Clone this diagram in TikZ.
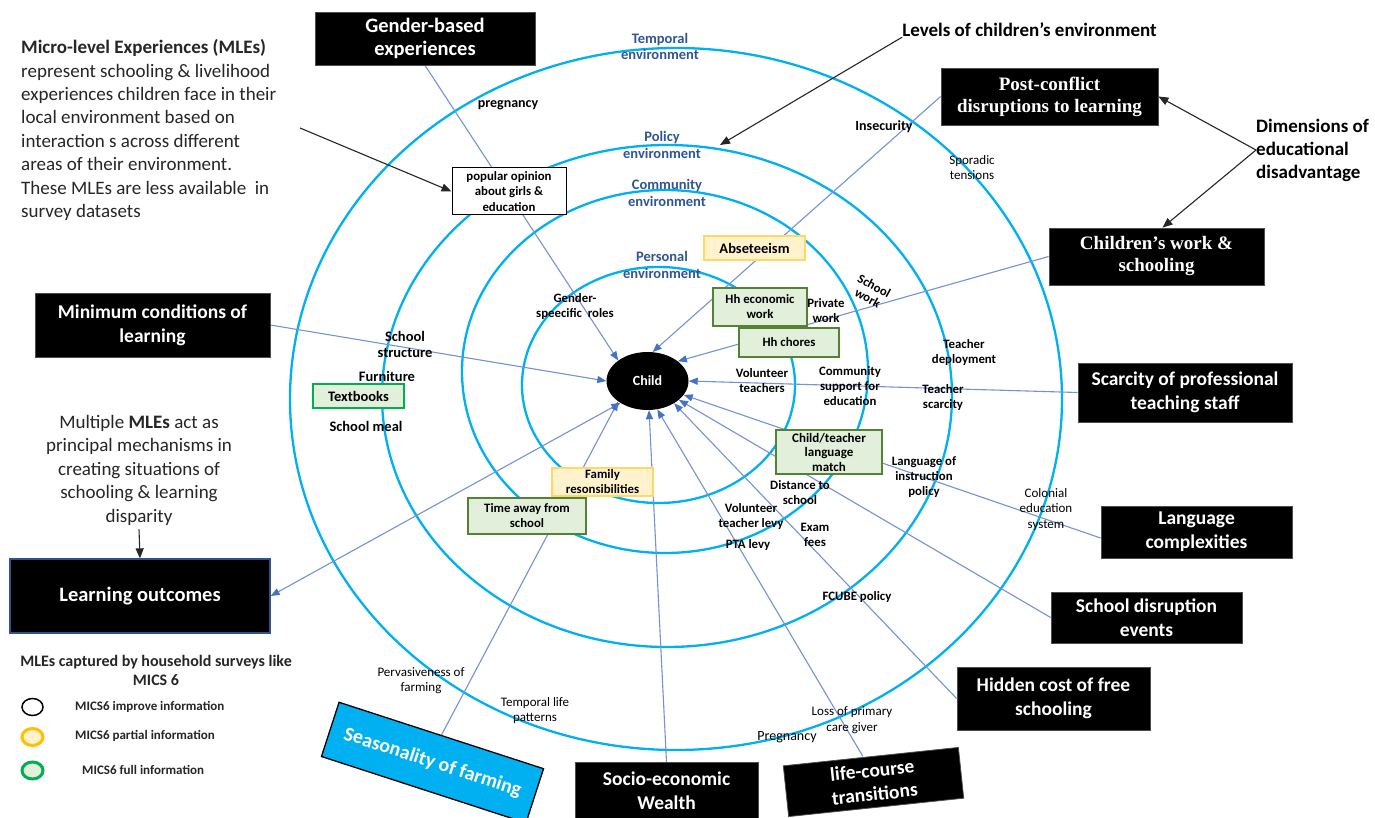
\documentclass[tikz,border=0pt]{standalone}
\usepackage{fontspec}
\setmainfont{Carlito}
\newfontfamily\timesfont{Liberation Serif}
\usetikzlibrary{shapes.geometric,arrows.meta}

\definecolor{ringblue}{HTML}{00B0F0}
\definecolor{conn}{HTML}{7393D6}
\definecolor{tip}{HTML}{4472C4}
\definecolor{ringtext}{HTML}{2F5597}
\definecolor{yfill}{HTML}{FFF2CC}
\definecolor{ydraw}{HTML}{FFD966}
\definecolor{gfill}{HTML}{E2EFDA}
\definecolor{gdraw}{HTML}{548235}
\definecolor{gbright}{HTML}{00B050}
\definecolor{legy}{HTML}{FFC000}
\definecolor{seasblue}{HTML}{00B0F0}
\definecolor{learnedge}{HTML}{2F528F}
\definecolor{ink}{HTML}{262626}

\pgfdeclarelayer{back}
\pgfsetlayers{back,main}

\tikzset{
  darkbox/.style={fill=black, draw=black!70, line width=0.8pt, text=white, align=center,
    inner sep=0pt, font=\fontsize{19.5}{23.8}\selectfont\bfseries},
  serifbox/.style={darkbox, font=\timesfont\fontsize{19}{22}\selectfont\bfseries},
  greenbox/.style={fill=gfill, draw=gdraw, line width=1.5pt, align=center, inner sep=0pt,
    font=\fontsize{12.8}{15}\selectfont\bfseries},
  yellowbox/.style={fill=yfill, draw=ydraw, line width=1.5pt, align=center, inner sep=0pt,
    font=\fontsize{12.8}{15}\selectfont\bfseries},
  lbl/.style={align=center, inner sep=0pt, font=\fontsize{12.8}{15}\selectfont\bfseries},
  lblmid/.style={align=center, inner sep=0pt, font=\fontsize{14}{16}\selectfont\bfseries},
  lblbig/.style={align=center, inner sep=0pt, font=\fontsize{14.5}{16}\selectfont\bfseries},
  lblr/.style={align=center, inner sep=0pt, font=\fontsize{13}{15.5}\selectfont},
  ringlbl/.style={align=center, inner sep=0pt, text=ringtext, font=\fontsize{14.5}{16.5}\selectfont\bfseries},
  ringline/.style={draw=ringblue, line width=2.3pt},
  link/.style={draw=conn, line width=1.1pt, -{Triangle[length=9pt,width=7pt,color=tip]}},
  twolink/.style={draw=conn, line width=1.1pt, {Triangle[length=9pt,width=7pt,color=tip]}-{Triangle[length=9pt,width=7pt,color=tip]}},
  pointer/.style={draw=black!85, line width=1.1pt, -{Triangle[length=10pt,width=8pt]}},
  legendkey/.style={ellipse, minimum width=21pt, minimum height=17pt, inner sep=0pt},
  legendtext/.style={anchor=west, inner sep=0pt, font=\fontsize{13}{15}\selectfont\bfseries, text=ink},
}

\begin{document}
\begin{tikzpicture}[x=1pt,y=-1pt]
\useasboundingbox (0,0) rectangle (1375,818);

% ---- central child ----
\node[ellipse, fill=black, minimum width=82pt, minimum height=58pt, inner sep=0pt,
  text=white, font=\fontsize{14}{16}\selectfont\bfseries] (child) at (647.5,381) {Child};

% ---- ring labels ----
\node[ringlbl] (rTemporal) at (660,46.5) {Temporal\\environment};
\node[ringlbl] (rPolicy) at (662,145) {Policy\\environment};
\node[ringlbl] (rCommunity) at (667,193) {Community\\environment};
\node[ringlbl] (rPersonal) at (662,265) {Personal\\environment};

% ---- dimension boxes ----
\node[darkbox, minimum width=220pt, minimum height=53pt, font=\fontsize{20.5}{23.5}\selectfont\bfseries]
  (gender) at (425,38.5) {Gender-based\\experiences};
\node[serifbox, minimum width=217pt, minimum height=57pt] (post) at (1049.5,96.5)
  {Post-conflict\\disruptions to learning};
\node[serifbox, minimum width=215pt, minimum height=57pt] (cwork) at (1156.5,256.5)
  {Children’s work \&\\schooling};
\node[darkbox, minimum width=235pt, minimum height=64pt] (mincond) at (152.5,325)
  {Minimum conditions of\\learning};
\node[darkbox, minimum width=214pt, minimum height=59pt] (scarcity) at (1185,392.5)
  {Scarcity of professional\\teaching staff};
\node[darkbox, minimum width=191pt, minimum height=52pt] (langc) at (1196.5,532)
  {Language\\complexities};
\node[darkbox, minimum width=191pt, minimum height=51pt] (disrupt) at (1146.5,617.5)
  {School disruption\\events};
\node[darkbox, minimum width=193pt, minimum height=63pt] (hidden) at (1053.5,698.5)
  {Hidden cost of free\\schooling};
\node[darkbox, minimum width=176pt, minimum height=51pt, rotate=6] (lifec) at (873.5,782)
  {life-course\\transitions};
\node[darkbox, minimum width=183pt, minimum height=57pt] (socio) at (666.5,791)
  {Socio-economic\\Wealth};
\node[darkbox, fill=seasblue, draw=black, line width=1.3pt, minimum width=215pt,
  minimum height=57pt, rotate=-18, font=\fontsize{20}{24}\selectfont\bfseries]
  (season) at (432.5,762.6) {Seasonality of farming};
\node[darkbox, draw=learnedge, line width=1.3pt, minimum width=260pt, minimum height=74pt,
  font=\fontsize{20.5}{24}\selectfont\bfseries] (learn) at (140,596) {Learning outcomes};

% ---- micro-level experience boxes ----
\node[fill=white, draw=black, line width=1pt, align=center, inner sep=0pt,
  minimum width=114pt, minimum height=47pt, font=\fontsize{12.8}{15.5}\selectfont\bfseries]
  (opinion) at (509,191.5) {popular opinion\\about girls \&\\education};
\node[yellowbox, minimum width=101pt, minimum height=24pt, font=\fontsize{14.5}{16}\selectfont\bfseries]
  (absent) at (754.5,248) {Abseteeism};
\node[greenbox, minimum width=94pt, minimum height=38pt] (hhwork) at (760,307) {Hh economic\\work};
\node[greenbox, minimum width=100pt, minimum height=29pt] (hhchores) at (789,342.5) {Hh chores};
\node[greenbox, minimum width=106pt, minimum height=44pt, font=\fontsize{13}{14.5}\selectfont\bfseries]
  (langmatch) at (829,452) {Child/teacher\\language\\match};
\node[yellowbox, minimum width=101pt, minimum height=28pt] (family) at (602.5,482)
  {Family\\resonsibilities};
\node[greenbox, minimum width=118pt, minimum height=36pt] (timeaway) at (527,516)
  {Time away from\\school};
\node[greenbox, draw=gbright, minimum width=91pt, minimum height=24pt,
  font=\fontsize{14.5}{16}\selectfont\bfseries] (textbooks) at (358.5,396) {Textbooks};

% ---- free labels ----
\node[lblmid] (lPregTop) at (508,105) {pregnancy};
\node[lblmid] (lInsec) at (884,127) {Insecurity};
\node[lblr] (lSporadic) at (972,167.5) {Sporadic\\tensions};
\node[lbl] (lGenderRoles) at (575,307) {Gender-\\speecific\ \ roles};
\node[lblbig] (lStructure) at (405,344) {School\\structure};
\node[lblbig] (lFurniture) at (387,376) {Furniture};
\node[lblbig] (lMeal) at (366,426) {School meal};
\node[lbl] (lPrivate) at (826,311) {Private\\work};
\node[lbl, rotate=-29, font=\fontsize{12.8}{13.5}\selectfont\bfseries] (lSchoolWork) at (871,292) {School\\work};
\node[lbl] (lVolTeach) at (762,381) {Volunteer\\teachers};
\node[lbl] (lCommSupport) at (850,386) {Community\\support for\\education};
\node[lbl] (lDeploy) at (964,352.5) {Teacher\\deployment};
\node[lbl] (lScarce) at (943,397.5) {Teacher\\scarcity};
\node[lbl] (lInstr) at (924,477) {Language of\\instruction\\policy};
\node[lbl] (lDistance) at (800,492.5) {Distance to\\school};
\node[lbl] (lVolLevy) at (751,516.5) {Volunteer\\teacher levy};
\node[lbl] (lPTA) at (748,545) {PTA levy};
\node[lbl] (lExam) at (815,535) {Exam\\fees};
\node[lbl] (lFCUBE) at (857,597) {FCUBE policy};
\node[lblr] (lColonial) at (1046,509.5) {Colonial\\education\\system};
\node[lblr] (lPervasive) at (421,680.5) {Pervasiveness of\\farming};
\node[lblr] (lTempLife) at (535,710.5) {Temporal life\\patterns};
\node[lblr] (lLoss) at (852,720) {Loss of primary\\care giver};
\node[lblr, font=\fontsize{14}{16}\selectfont] (lPregBottom) at (787,737) {Pregnancy};

% ---- annotations ----
\node[anchor=west, align=left, inner sep=0pt, text=ink, font=\fontsize{19}{23.4}\selectfont]
  (mle) at (21,130)
  {\textbf{Micro-level Experiences (MLEs)}\\represent schooling \& livelihood\\experiences children face in their\\local environment based on\\interaction s across different\\areas of their environment.\\These MLEs are less available\ \ in\\survey datasets};
\node[inner sep=0pt, font=\fontsize{19}{23}\selectfont\bfseries] (levels) at (1029.5,30)
  {Levels of children’s environment};
\node[anchor=west, align=left, inner sep=0pt, font=\fontsize{19}{23}\selectfont\bfseries]
  (dims) at (1256,150) {Dimensions of\\educational\\disadvantage};
\node[align=center, inner sep=0pt, text=ink, font=\fontsize{19}{23.5}\selectfont]
  (multi) at (139,470) {Multiple \textbf{MLEs} act as\\principal mechanisms in\\creating situations of\\schooling \& learning\\disparity};

% ---- legend ----
\node[align=center, inner sep=0pt, text=ink, font=\fontsize{16}{19}\selectfont\bfseries]
  (legtitle) at (156,670.5) {MLEs captured by household surveys like\\MICS 6};
\node[legendkey, draw=black, fill=white, line width=1.5pt] (keyImprove) at (32.5,707) {};
\node[legendkey, draw=legy, fill=yfill, line width=3pt] (keyPartial) at (32.5,737) {};
\node[legendkey, draw=gbright, fill=gfill, line width=3pt] (keyFull) at (32.5,770.5) {};
\node[legendtext] (txtImprove) at (75,707) {MICS6 improve information};
\node[legendtext] (txtPartial) at (75,735.5) {MICS6 partial information};
\node[legendtext] (txtFull) at (82,769.5) {MICS6 full information};

% ---- free ends of annotation pointers ----
\coordinate (mleStart) at (300,128);
\coordinate (policyMark) at (720,145);

\begin{pgfonlayer}{back}
  \fill[white] (0,0) rectangle (1375,818);
  % environment rings
  \draw[ringline] (676,399) ellipse [x radius=386, y radius=351];
  \draw[ringline] (667,396) ellipse [x radius=285, y radius=251];
  \draw[ringline] (665,371.5) ellipse [x radius=203, y radius=181.5];
  \draw[ringline] (658.5,385) ellipse [x radius=136.5, y radius=118];

  % influences acting on the child
  \draw[link] (gender.south) -- (child.145);
  \draw[link] (post.west) -- (child.80);
  \draw[link] (cwork.west) -- (child.33);
  \draw[link] (mincond.east) -- (child.180);
  \draw[link] (scarcity.west) -- (child.0);
  \draw[link] ([yshift=-6pt]langc.west) -- (child.-21);
  \draw[link] (disrupt.west) -- (child.-31);
  \draw[link] (hidden.west) -- (child.-40);
  \draw[link] (socio.north) -- (child.-87);
  \draw[link] ([xshift=-8pt]lifec.north) -- (child.-71);
  \draw[link] (season.north) -- (child.-145);
  \draw[twolink] (learn.east) -- (child.-141);
\end{pgfonlayer}

% annotation pointers
\draw[pointer] (mleStart) -- (opinion.west);
\draw[pointer] (levels.south west) -- (policyMark);
\draw[pointer] (dims.west) -- (post.east);
\draw[pointer] (dims.west) -- ([xshift=6pt]cwork.north);
\draw[pointer] ([yshift=-4pt]multi.south) -- (learn.north);
\end{tikzpicture}
\end{document}
